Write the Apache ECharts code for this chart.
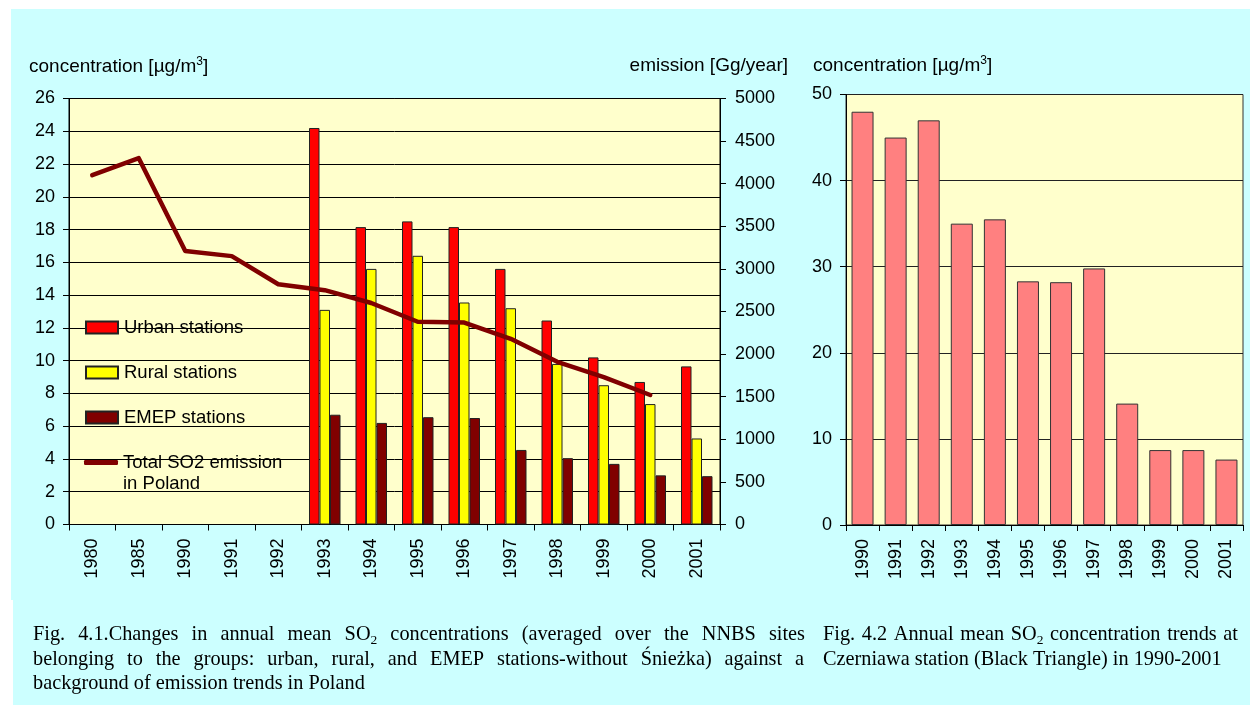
<!DOCTYPE html>
<html><head><meta charset="utf-8">
<script src="https://cdn.jsdelivr.net/npm/echarts@6/dist/echarts.min.js"></script>
<style>html,body{margin:0;padding:0;background:#fff}#c{width:1250px;height:706px}</style>
</head><body><div id="c"></div><script>
// ---- data ----
const yearsLeft = ['1980','1985','1990','1991','1992','1993','1994','1995','1996','1997','1998','1999','2000','2001'];
const urban    = [null,null,null,null,null,24.2,18.15,18.5,18.15,15.6,12.45,10.2,8.7,9.65];
const rural    = [null,null,null,null,null,13.1,15.6,16.4,13.55,13.2,9.8,8.5,7.35,5.25];
const emep     = [null,null,null,null,null,6.7,6.2,6.55,6.5,4.55,4.05,3.7,3.0,2.95];
const emission = [4100,4300,3210,3150,2820,2750,2600,2380,2370,2180,1910,1730,1520,null];
const yearsRight = ['1990','1991','1992','1993','1994','1995','1996','1997','1998','1999','2000','2001'];
const czerniawa  = [48,45,47,35,35.5,28.3,28.2,29.8,14.1,8.7,8.7,7.6];
const concAxis = {min:0, max:26, interval:2};
const emisAxis = {min:0, max:5000, interval:500};
const czAxis   = {min:0, max:50, interval:10};
const seriesNames = ['Urban stations','Rural stations','EMEP stations','Total SO2 emission in Poland','Czerniawa'];

// ---- styles ----
const SANS = '"Liberation Sans", Arial, sans-serif';
const SERIF = '"Liberation Serif", "Times New Roman", serif';
const CAP = 20.3, SUB = 13.5;

const chart = echarts.init(document.getElementById('c'), null, {renderer:'canvas'});

// caption helpers (justified lines built word by word)
const mctx = document.createElement('canvas').getContext('2d');
function mw(t, s){ mctx.font = s + 'px ' + SERIF; return mctx.measureText(t).width; }
function wordW(word){
  if (word.indexOf('SO_2') >= 0){ const p = word.split('SO_2'); return mw(p[0]+'SO',CAP)+mw('2',SUB)+mw(p[1],CAP); }
  return mw(word,CAP);
}
function wordText(word){
  if (word.indexOf('SO_2') >= 0){ const p = word.split('SO_2'); return '{n|'+p[0]+'SO}{s|2}' + (p[1] ? '{n|'+p[1]+'}' : ''); }
  return '{n|'+word+'}';
}
const capRich = {
  n:{fontSize:CAP, fontFamily:SERIF, lineHeight:24, color:'#000'},
  s:{fontSize:SUB, fontFamily:SERIF, lineHeight:13, verticalAlign:'bottom', color:'#000'}
};
function captionLine(str, x0, x1, baseline, justify){
  const words = str.split(' ');
  const widths = words.map(wordW);
  const sum = widths.reduce((a,b)=>a+b,0);
  const gap = justify ? (x1-x0-sum)/(words.length-1) : mw(' ',CAP);
  const top = baseline - 18.85;
  const els = [];
  let x = x0;
  words.forEach((wd,i)=>{
    els.push({type:'text', x:x, y:top, silent:true, style:{text:wordText(wd), rich:capRich, align:'left', verticalAlign:'top'}});
    x += widths[i] + gap;
  });
  return els;
}

const titleRich = {
  a:{fontSize:19, fontFamily:SANS, lineHeight:22, color:'#000'},
  p:{fontSize:12, fontFamily:SANS, lineHeight:12, verticalAlign:'top', color:'#000'}
};

const graphics = [
  {type:'rect', z:-100, silent:true, shape:{x:11,y:9,width:1239,height:591}, style:{fill:'#CCFFFF'}},
  {type:'rect', z:-100, silent:true, shape:{x:13,y:600,width:1237,height:105}, style:{fill:'#CCFFFF'}},
  {type:'text', x:29, y:67, silent:true, style:{text:'{a|concentration [µg/m}{p|3}{a|]}', rich:titleRich, align:'left', verticalAlign:'middle'}},
  {type:'text', x:788, y:66, silent:true, style:{text:'{a|emission [Gg/year]}', rich:titleRich, align:'right', verticalAlign:'middle'}},
  {type:'text', x:813, y:66, silent:true, style:{text:'{a|concentration [µg/m}{p|3}{a|]}', rich:titleRich, align:'left', verticalAlign:'middle'}}
].concat(
  captionLine('Fig. 4.1.Changes in annual mean SO_2 concentrations (averaged over the NNBS sites', 33, 805, 642, true),
  captionLine('belonging to the groups: urban, rural, and EMEP stations-without Śnieżka) against a', 33, 804, 666.5, true),
  captionLine('background of emission trends in Poland', 33, 0, 691, false),
  captionLine('Fig. 4.2 Annual mean SO_2 concentration trends at', 823, 1238, 642, true),
  captionLine('Czerniawa station (Black Triangle) in 1990-2001', 823, 0, 666.5, false)
);

const tickLabel = {color:'#000', fontSize:18, fontFamily:SANS};
const barBorder = {borderColor:'#222', borderWidth:1};
const plain = function(v){ return String(v); };

const option = {
  animation:false,
  backgroundColor:'transparent',
  graphic: graphics,
  grid:[
    {left:69, top:98.5, width:651, height:426, show:true, backgroundColor:'#FFFFCC', borderColor:'#000', borderWidth:1},
    {left:846, top:94.5, width:397, height:430.5, show:true, backgroundColor:'#FFFFCC', borderColor:'#333', borderWidth:1}
  ],
  legend:[
    {data:seriesNames.slice(0,3), icon:'rect', orient:'vertical', left:85, top:317, itemWidth:32, itemHeight:12, itemGap:24, padding:0,
     selectedMode:false, textStyle:{color:'#000', fontSize:18.5, fontFamily:SANS, lineHeight:21, padding:[0,0,0,1]}},
    {data:[{name:seriesNames[3], icon:'roundRect'}], orient:'vertical', left:84, top:431, itemWidth:34, itemHeight:5, padding:0,
     selectedMode:false, formatter:function(){ return '\nTotal SO2 emission\nin Poland'; },
     itemStyle:{color:'#800000', borderWidth:0},
     textStyle:{color:'#000', fontSize:18.5, fontFamily:SANS, lineHeight:21}}
  ],
  xAxis:[
    {type:'category', gridIndex:0, data:yearsLeft, boundaryGap:true,
     axisLine:{lineStyle:{color:'#000', width:1}}, axisTick:{show:true, length:6, interval:0, lineStyle:{color:'#000'}},
     axisLabel:Object.assign({rotate:90, interval:0, margin:14}, tickLabel), splitLine:{show:false}},
    {type:'category', gridIndex:1, data:yearsRight, boundaryGap:true,
     axisLine:{lineStyle:{color:'#000', width:1}}, axisTick:{show:true, length:6, interval:0, lineStyle:{color:'#000'}},
     axisLabel:Object.assign({rotate:90, interval:0, margin:14}, tickLabel), splitLine:{show:false}}
  ],
  yAxis:[
    {type:'value', gridIndex:0, position:'left', min:concAxis.min, max:concAxis.max, interval:concAxis.interval,
     axisLine:{show:true, lineStyle:{color:'#000'}}, axisTick:{show:true, length:6, lineStyle:{color:'#000'}},
     axisLabel:Object.assign({margin:14, formatter:plain}, tickLabel), splitLine:{show:true, lineStyle:{color:'#000', width:1}}},
    {type:'value', gridIndex:0, position:'right', min:emisAxis.min, max:emisAxis.max, interval:emisAxis.interval,
     axisLine:{show:true, lineStyle:{color:'#000'}}, axisTick:{show:true, length:6, lineStyle:{color:'#000'}},
     axisLabel:Object.assign({margin:15, formatter:plain}, tickLabel), splitLine:{show:false}},
    {type:'value', gridIndex:1, position:'left', min:czAxis.min, max:czAxis.max, interval:czAxis.interval,
     axisLine:{show:true, lineStyle:{color:'#000'}}, axisTick:{show:true, length:6, lineStyle:{color:'#000'}},
     axisLabel:Object.assign({margin:14, formatter:plain}, tickLabel), splitLine:{show:true, lineStyle:{color:'#222', width:1}}}
  ],
  series:[
    {name:seriesNames[0], type:'bar', xAxisIndex:0, yAxisIndex:0, data:urban, barWidth:10.5, barGap:'0%',
     itemStyle:Object.assign({color:'#FF0000'}, barBorder)},
    {name:seriesNames[1], type:'bar', xAxisIndex:0, yAxisIndex:0, data:rural, barWidth:10.5, barGap:'0%',
     itemStyle:Object.assign({color:'#FFFF00'}, barBorder)},
    {name:seriesNames[2], type:'bar', xAxisIndex:0, yAxisIndex:0, data:emep, barWidth:10.5, barGap:'0%',
     itemStyle:Object.assign({color:'#800000'}, barBorder)},
    {name:seriesNames[3], type:'line', xAxisIndex:0, yAxisIndex:1, data:emission, symbol:'none', showSymbol:false,
     z:5, lineStyle:{color:'#800000', width:4.5, join:'round', cap:'round'}, itemStyle:{color:'#800000'}},
    {name:seriesNames[4], type:'bar', xAxisIndex:1, yAxisIndex:2, data:czerniawa, barWidth:22,
     itemStyle:{color:'#FF8080', borderColor:'#333', borderWidth:1}}
  ]
};
chart.setOption(option);
</script></body></html>
